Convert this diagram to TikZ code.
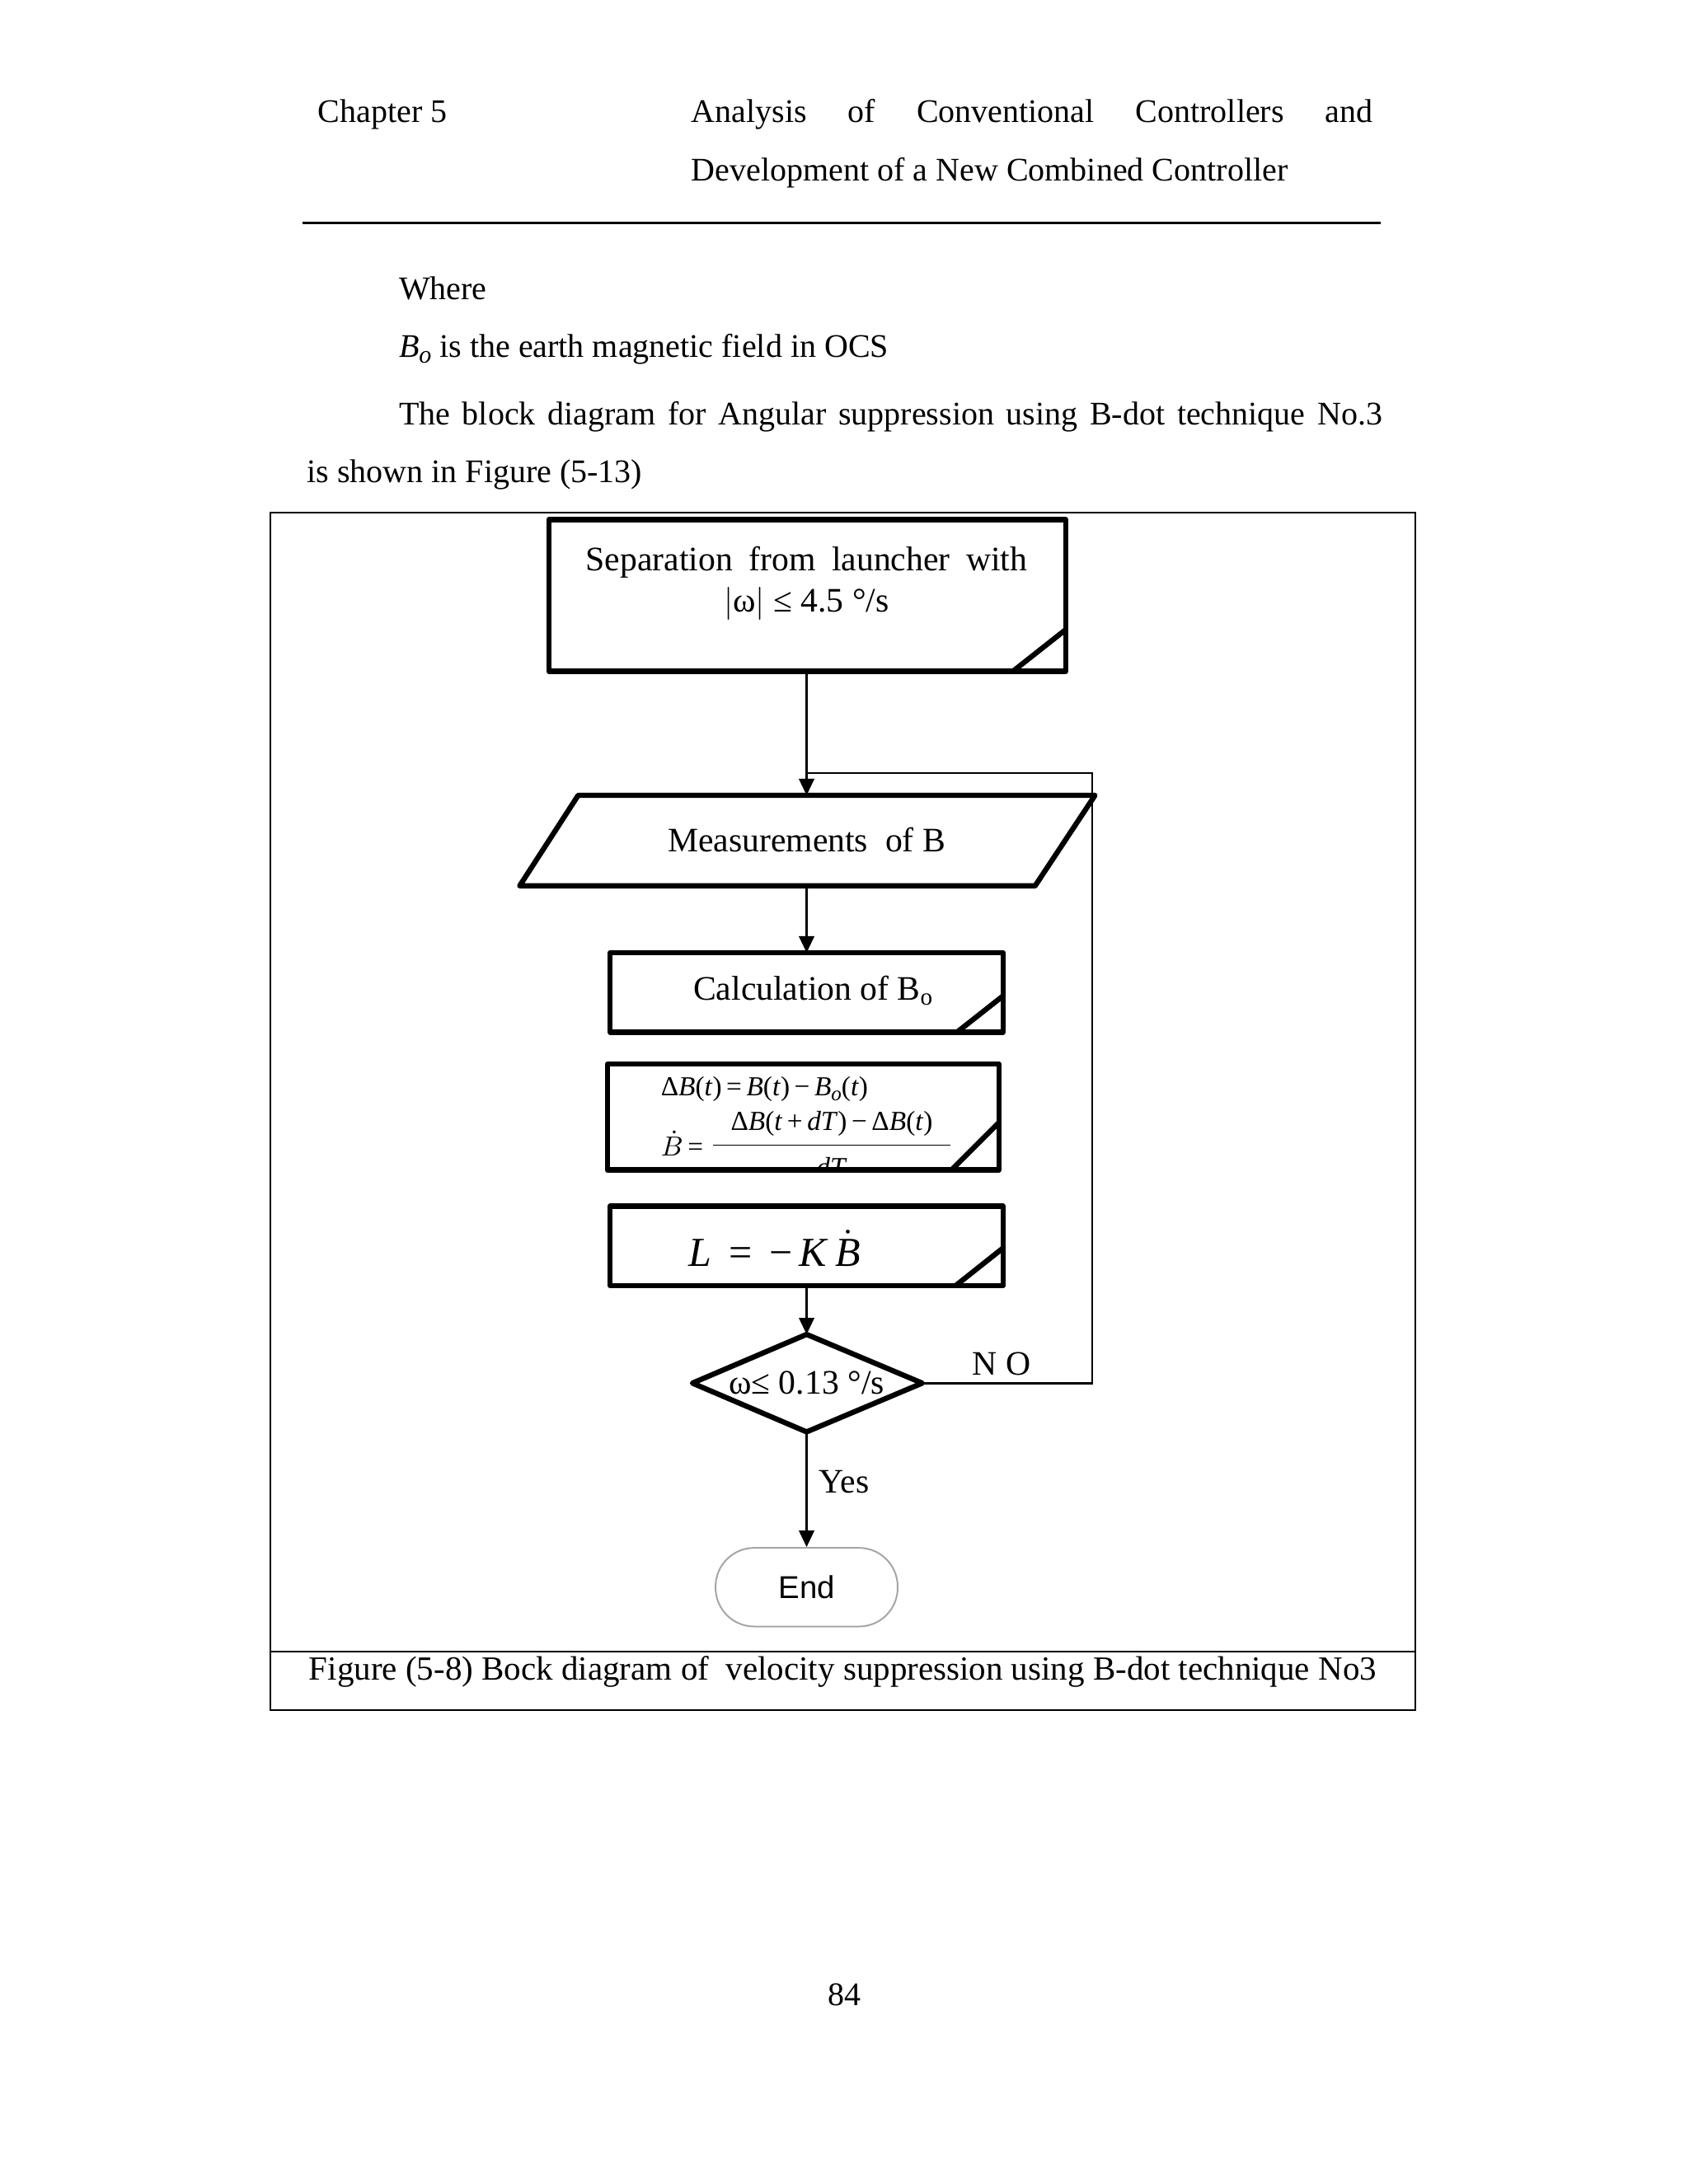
\documentclass[tikz,border=0pt]{standalone}
\usepackage{fontspec}
\setmainfont{Liberation Serif}
\newfontfamily\sansf{Liberation Sans}
\usetikzlibrary{arrows.meta}
\begin{document}
\begin{tikzpicture}[x=0.505bp,y=-0.505bp,
  body/.style={font=\fontsize{12}{14}\selectfont,inner sep=0pt},
  thickbox/.style={draw,line width=1.9bp,line join=round},
  thin/.style={line width=0.8bp},
  arr/.style={thin,-{Triangle[length=6bp,width=5.5bp]}},
  lbl/.style={font=\fontsize{12.5}{14}\selectfont,inner sep=0pt}]
\useasboundingbox[fill=white] (0,0) rectangle (1212,1568);
% header
\node[body,anchor=west] (ch) at (228,82) {Chapter 5};
\node[body,anchor=west] (h1) at (496,82) {\makebox[247bp][s]{Analysis of Conventional Controllers and}};
\node[body,anchor=west] (h2) at (496,124) {Development of a New Combined Controller};
\draw[line width=0.8bp] (217,160) -- (991,160);
% body
\node[body,anchor=west] (w) at (286,207) {Where};
\node[body,anchor=west] (bo) at (286,251) {\textit{B}\raisebox{-0.35ex}{\fontsize{9}{10}\selectfont\textit{o}} is the earth magnetic field in OCS};
\node[body,anchor=west] (p1) at (286,299) {\makebox[356.5bp][s]{The block diagram for Angular suppression using B-dot technique No.3}};
\node[body,anchor=west] (p2) at (220,341) {is shown in Figure (5-13)};
% frame
\draw[line width=0.6bp] (194,368) rectangle (1016,1228);
\draw[line width=0.6bp] (194,1186) -- (1016,1186);
\node[body,font=\fontsize{12.3}{14}\selectfont] (cap) at (605,1200) {Figure (5-8) Bock diagram of \ velocity suppression using B-dot technique No3};
% box 1
\draw[thickbox] (394,373) rectangle (765,482);
\draw[thickbox] (727,482) -- (765,452);
\node[lbl,align=center] (b1) at (579,419) {\makebox[160bp][s]{Separation from launcher with}\\[1pt]$|$ω$|$ ≤ 4.5 °/s};
\coordinate (b1s) at (579,482);
% parallelogram
\draw[thickbox] (415,571) -- (786,571) -- (743,636) -- (373,636) -- cycle;
\node[lbl] (meas) at (579,603) {Measurements \ of B};
\coordinate (mt) at (579,571);
\coordinate (mb) at (579,636);
% calc box
\draw[thickbox] (438,684) rectangle (720,741);
\draw[thickbox] (687,741) -- (720,715);
\node[lbl] (calc) at (584,711) {Calculation of B\textsubscript{o}};
\coordinate (ct) at (579,684);
% eq box
\node[inner sep=0pt,anchor=west,font=\fontsize{10}{11}\selectfont] (e1) at (474,782) {Δ\textit{B}(\textit{t})\,=\,\textit{B}(\textit{t})\,−\,\textit{B}\raisebox{-0.4ex}{\fontsize{7.5}{8}\selectfont\textit{o}}(\textit{t})};
\node[inner sep=0pt,anchor=west,font=\fontsize{10}{11}\selectfont] (e2) at (474,821) {$\dot{B}$\,=};
\node[inner sep=0pt,font=\fontsize{10}{11}\selectfont] (e3) at (597,807) {Δ\textit{B}(\textit{t}\,+\,\textit{dT})\,−\,Δ\textit{B}(\textit{t})};
\draw[line width=0.4bp] (512,822) -- (682,822);
\node[inner sep=0pt,font=\fontsize{10}{11}\selectfont] (e4) at (597,838) {\textit{dT}};
\fill[white] (430,840) rectangle (725,854);
\draw[thickbox] (436,764) rectangle (717,840);
\draw[thickbox] (683,840) -- (717,806);
% L box
\draw[thickbox] (438,866) rectangle (720,923);
\draw[thickbox] (686,923) -- (720,896);
\node[inner sep=0pt,font=\fontsize{15}{16}\selectfont] (lk) at (556,896) {\textit{L} \,=\, −\,\textit{K}$\,\dot{\textit{B}}$};
\coordinate (lb) at (579,923);
% diamond
\draw[thickbox] (579,958) -- (662,993) -- (579,1028) -- (497,993) -- cycle;
\node[lbl] (dec) at (579,993) {ω≤ 0.13 °/s};
\coordinate (dt) at (579,958);
\coordinate (dr) at (662,993);
\coordinate (db) at (579,1028);
\node[lbl] (no) at (719,979) {N O};
\node[lbl] (yes) at (606,1064) {Yes};
% end
\node[draw=gray!70,line width=0.6bp,rounded corners=14bp,minimum width=66bp,minimum height=28.5bp,font=\sansf\fontsize{11.5}{13}\selectfont] (end) at (579,1139.5) {End};
% connectors
\draw[arr] (b1s) -- (mt);
\draw[arr] (mb) -- (ct);
\draw[arr] (lb) -- (dt);
\draw[arr] (db) -- (end.north);
\draw[thin] (dr) -- (784,993) -- (784,555) -- (579,555);
% page number
\node[body] (pg) at (606,1432) {84};
\end{tikzpicture}
\end{document}
